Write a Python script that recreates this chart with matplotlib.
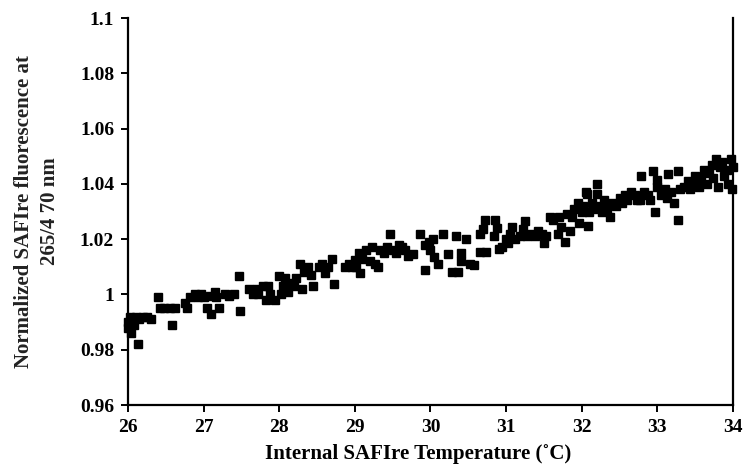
import numpy as np
import matplotlib
matplotlib.use("Agg")
import matplotlib.pyplot as plt

# internal temperature (C) and normalized fluorescence
temp = [26.00, 26.00, 26.02, 26.04, 26.06, 26.08, 26.10, 26.13, 26.15, 26.20,
        26.25, 26.30, 26.40, 26.42, 26.48, 26.55, 26.58, 26.62, 26.75, 26.78,
        26.82, 26.88, 26.92, 26.97, 27.00,
        27.05, 27.08, 27.10, 27.15, 27.17, 27.20, 27.28, 27.33, 27.40, 27.47,
        27.48, 27.60, 27.65, 27.70, 27.72, 27.78, 27.82, 27.85, 27.88, 27.95,
        28.00, 28.02, 28.05, 28.08, 28.12, 28.15, 28.20, 28.22, 28.27, 28.30,
        28.33, 28.38, 28.42, 28.45, 28.52, 28.57, 28.60, 28.65, 28.70, 28.72,
        28.87, 28.92, 28.96,
        29.00, 29.02, 29.05, 29.07, 29.10, 29.15, 29.20, 29.22, 29.27, 29.30,
        29.33, 29.38, 29.42, 29.47, 29.50, 29.55, 29.58, 29.62, 29.66, 29.70,
        29.77, 29.86, 29.93, 29.93,
        29.98, 30.00, 30.03, 30.05, 30.10, 30.17, 30.23, 30.28, 30.34, 30.37,
        30.40, 30.41, 30.47, 30.52, 30.58, 30.66, 30.66, 30.70, 30.72, 30.74,
        30.85, 30.84, 30.88, 30.90, 30.95, 31.00,
        31.02, 31.05, 31.08, 31.12, 31.18, 31.22, 31.25, 31.28, 31.33, 31.38,
        31.42, 31.47, 31.50, 31.53, 31.58, 31.62, 31.68, 31.70, 31.73, 31.78,
        31.80, 31.85, 31.87, 31.90, 31.95, 31.97, 32.00,
        32.02, 32.05, 32.07, 32.08, 32.10, 32.13, 32.17, 32.20, 32.20, 32.23,
        32.27, 32.30, 32.33, 32.37, 32.40, 32.45, 32.50, 32.53, 32.57, 32.60,
        32.65, 32.70, 32.73, 32.78, 32.77, 32.83, 32.88, 32.90, 32.94, 32.97,
        33.00, 33.00,
        33.05, 33.10, 33.14, 33.13, 33.18, 33.22, 33.27, 33.27, 33.30, 33.35,
        33.40, 33.43, 33.47, 33.50, 33.55, 33.58, 33.62, 33.65, 33.68, 33.72,
        33.74, 33.78, 33.80, 33.83, 33.86, 33.88, 33.92, 33.94, 33.97, 33.99,
        34.00]

fluor = [0.990, 0.988, 0.992, 0.986, 0.991, 0.989, 0.992, 0.982, 0.991, 0.992,
         0.992, 0.991, 0.999, 0.995, 0.995, 0.995, 0.989, 0.995, 0.997, 0.995,
         0.999, 1.000, 0.999, 1.000, 0.999,
         0.995, 0.9993, 0.993, 1.001, 0.999, 0.995, 1.000, 0.9995, 1.000, 1.0065,
         0.994, 1.002, 1.000, 1.002, 1.000, 1.003, 0.998, 1.003, 1.000, 0.998,
         1.0065, 1.000, 1.003, 1.0058, 1.001, 1.004, 1.003, 1.006, 1.011, 1.002,
         1.008, 1.010, 1.007, 1.003, 1.010, 1.011, 1.0076, 1.010, 1.013, 1.0036,
         1.010, 1.011, 1.010,
         1.0125, 1.010, 1.015, 1.0076, 1.013, 1.016, 1.012, 1.017, 1.011, 1.010,
         1.016, 1.015, 1.017, 1.0217, 1.016, 1.015, 1.018, 1.017, 1.016, 1.014,
         1.0145, 1.0217, 1.018, 1.009,
         1.019, 1.016, 1.020, 1.0135, 1.011, 1.022, 1.0148, 1.008, 1.021, 1.008,
         1.012, 1.015, 1.020, 1.011, 1.0105, 1.022, 1.0155, 1.0235, 1.027, 1.0155,
         1.027, 1.021, 1.024, 1.0166, 1.017, 1.020,
         1.0185, 1.022, 1.0245, 1.020, 1.021, 1.0235, 1.0264, 1.021, 1.022, 1.021,
         1.023, 1.022, 1.0185, 1.021, 1.028, 1.027, 1.022, 1.028, 1.0245, 1.019,
         1.029, 1.023, 1.028, 1.031, 1.033, 1.026, 1.030,
         1.032, 1.037, 1.0365, 1.0246, 1.030, 1.033, 1.031, 1.040, 1.0365, 1.032,
         1.030, 1.034, 1.031, 1.028, 1.033, 1.032, 1.035, 1.033, 1.036, 1.034,
         1.037, 1.036, 1.034, 1.0427, 1.034, 1.037, 1.036, 1.034, 1.0445, 1.030,
         1.039, 1.0415,
         1.036, 1.038, 1.0434, 1.035, 1.037, 1.033, 1.0445, 1.027, 1.038, 1.039,
         1.041, 1.038, 1.040, 1.043, 1.039, 1.042, 1.045, 1.040, 1.044, 1.047,
         1.042, 1.049, 1.039, 1.046, 1.048, 1.043, 1.045, 1.040, 1.049, 1.038,
         1.046]

x_ticks = [26, 27, 28, 29, 30, 31, 32, 33, 34]
y_ticks = [0.96, 0.98, 1.0, 1.02, 1.04, 1.06, 1.08, 1.1]
y_labels = ["0.96", "0.98", "1", "1.02", "1.04", "1.06", "1.08", "1.1"]

plt.rcParams['font.family'] = ['Liberation Serif', 'DejaVu Serif']
plt.rcParams['font.weight'] = 'bold'

fig = plt.figure(figsize=(7.43, 4.68), dpi=100)
ax = fig.add_axes([0.1723, 0.1346, 0.8142, 0.8269])

ax.plot(temp, fluor, linestyle='none', marker='s', markersize=6,
        color='black', clip_on=False)

ax.set_xlim(26, 34)
ax.set_ylim(0.96, 1.1)
ax.set_xticks(x_ticks)
ax.set_yticks(y_ticks)
ax.set_yticklabels(y_labels)

for side in ['left', 'bottom', 'right']:
    ax.spines[side].set_linewidth(1.6)
ax.spines['top'].set_visible(False)

ax.tick_params(direction='out', length=5, width=1.4, labelsize=14, pad=5)
for lab in ax.get_xticklabels() + ax.get_yticklabels():
    lab.set_fontweight('bold')

ax.set_xlabel("Internal SAFIre Temperature (\u02daC)", fontsize=15,
              fontweight='bold', labelpad=6)
ax.xaxis.label.set_x(0.48)
ax.set_ylabel("Normalized SAFIre fluorescence at\n265/4 70 nm", fontsize=15,
              fontweight='bold', labelpad=14, linespacing=1.45, color='#222222')

fig.savefig("out.png", dpi=100)
